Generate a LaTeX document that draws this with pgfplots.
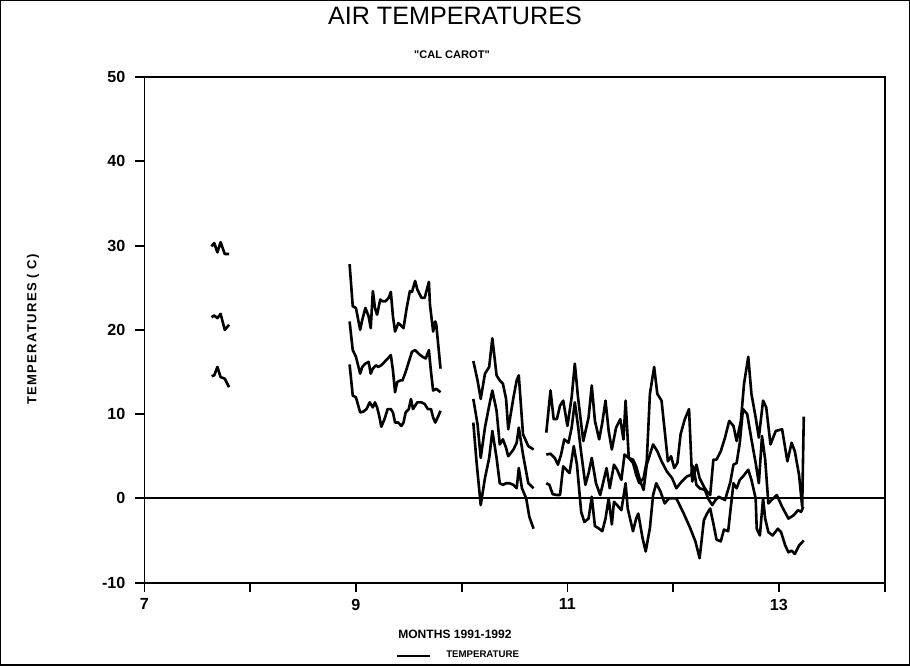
\documentclass[border=0pt]{standalone}
\usepackage{fontspec}
\setmainfont{Liberation Sans}
\usepackage{pgfplots}
\pgfplotsset{compat=1.18}

% daily max / mean / min air temperature, one table per line; nan breaks the gaps
\pgfplotstableread{
x y
7.635 29.9
7.66 30.3
7.69 29.2
7.72 30.4
7.76 29.0
7.80 29.0
nan nan
8.94 27.8
8.97 22.8
9.00 22.6
9.04 20.0
9.06 21.2
9.09 22.6
9.12 21.6
9.14 20.2
9.16 24.6
9.18 22.6
9.20 21.8
9.23 23.6
9.25 23.4
9.28 23.4
9.31 23.8
9.33 24.5
9.35 21.6
9.37 19.8
9.40 20.8
9.42 20.6
9.45 20.2
9.48 22.6
9.51 24.6
9.53 24.5
9.56 25.8
9.58 24.8
9.62 23.8
9.65 23.8
9.69 25.7
9.70 23.0
9.73 19.8
9.75 21.0
9.76 20.6
9.80 15.4
nan nan
10.11 16.3
10.15 14.0
10.18 11.8
10.22 14.8
10.26 15.6
10.29 19.0
10.33 14.6
10.36 14.0
10.39 13.6
10.42 11.8
10.44 8.2
10.49 12.0
10.52 14.0
10.54 14.6
10.58 7.6
10.63 6.2
10.68 5.8
nan nan
10.80 7.8
10.84 12.8
10.87 9.4
10.90 9.4
10.93 11.0
10.96 11.6
11.00 8.6
11.04 12.0
11.07 16.0
11.10 12.0
11.15 6.8
11.20 9.6
11.23 13.4
11.26 9.2
11.30 7.0
11.33 9.0
11.36 11.6
11.39 8.0
11.42 5.8
11.46 8.4
11.50 9.4
11.53 7.0
11.55 11.6
11.58 4.8
11.62 4.2
11.65 2.8
11.68 1.8
11.72 2.4
11.75 4.4
11.78 12.4
11.82 15.6
11.85 12.4
11.89 11.6
11.92 8.0
11.95 4.4
11.98 5.0
12.01 3.6
12.04 4.2
12.07 7.6
12.11 9.4
12.15 10.6
12.18 2.0
12.22 4.0
12.25 2.4
12.29 1.4
12.32 0.8
12.35 0.4
12.38 4.6
12.41 4.6
12.45 5.6
12.49 7.2
12.53 9.2
12.57 8.6
12.60 6.8
12.64 9.2
12.67 13.6
12.71 16.8
12.74 12.4
12.78 9.6
12.81 7.2
12.85 11.6
12.88 10.8
12.92 6.4
12.97 8.0
13.03 8.2
13.08 4.4
13.12 6.6
13.15 5.6
13.19 2.8
13.22 -1.0
13.235 9.7
}\tmax

\pgfplotstableread{
x y
7.635 21.5
7.66 21.7
7.69 21.4
7.72 21.9
7.76 20.0
7.80 20.6
nan nan
8.94 21.0
8.97 17.6
9.00 16.8
9.04 14.8
9.06 15.6
9.09 16.0
9.12 16.2
9.14 14.8
9.16 15.4
9.19 15.8
9.21 15.6
9.24 15.8
9.27 16.2
9.30 16.6
9.33 17.0
9.35 15.2
9.37 12.6
9.39 13.8
9.42 14.0
9.44 14.0
9.47 15.0
9.50 16.2
9.53 17.4
9.56 17.6
9.59 17.2
9.63 16.8
9.66 16.6
9.69 17.6
9.71 15.0
9.73 12.8
9.76 13.0
9.80 12.6
nan nan
10.11 11.8
10.15 8.8
10.18 4.8
10.22 8.4
10.26 11.0
10.29 12.8
10.33 10.4
10.36 6.4
10.39 7.0
10.42 6.0
10.44 5.0
10.49 5.8
10.52 6.6
10.54 8.4
10.58 5.2
10.63 1.8
10.68 1.2
nan nan
10.80 5.2
10.84 5.3
10.88 4.8
10.91 4.0
10.94 5.2
10.97 7.0
11.01 6.6
11.04 8.4
11.07 11.4
11.10 8.6
11.13 5.4
11.17 1.6
11.20 3.0
11.23 4.8
11.27 1.8
11.31 0.4
11.34 2.0
11.37 3.6
11.40 1.2
11.44 4.0
11.47 3.4
11.51 2.2
11.54 5.2
11.58 4.8
11.62 4.6
11.65 3.8
11.69 2.0
11.72 1.0
11.75 4.0
11.81 6.4
11.85 5.6
11.89 4.4
11.94 3.2
11.99 2.4
12.03 1.2
12.08 2.0
12.13 2.6
12.17 2.8
12.19 3.8
12.22 1.6
12.25 1.2
12.30 1.0
12.33 0.0
12.37 -0.8
12.40 -0.2
12.43 0.2
12.46 0.0
12.49 -0.2
12.54 1.9
12.57 4.0
12.60 4.2
12.63 6.6
12.66 10.6
12.70 10.0
12.74 7.0
12.78 4.2
12.81 1.8
12.84 7.4
12.87 4.6
12.90 -0.6
12.93 -0.2
12.98 0.4
13.03 -1.0
13.09 -2.4
13.14 -2.0
13.18 -1.4
13.21 -1.6
13.23 -1.0
}\tmean

\pgfplotstableread{
x y
7.635 14.5
7.66 14.6
7.69 15.6
7.72 14.4
7.76 14.2
7.80 13.2
nan nan
8.94 15.9
8.97 12.2
9.00 12.0
9.04 10.2
9.07 10.3
9.10 10.6
9.13 11.4
9.16 10.8
9.18 11.4
9.20 10.8
9.22 9.8
9.24 8.5
9.27 9.4
9.30 10.6
9.33 10.6
9.35 10.2
9.37 9.0
9.40 9.0
9.43 8.6
9.45 9.0
9.47 10.2
9.50 10.6
9.52 11.8
9.54 10.6
9.58 11.4
9.62 11.4
9.65 11.2
9.68 10.6
9.71 10.6
9.73 9.6
9.75 9.0
9.78 9.8
9.80 10.4
nan nan
10.11 9.0
10.14 4.4
10.18 -0.8
10.22 2.4
10.26 4.8
10.29 8.0
10.33 4.8
10.36 1.8
10.39 1.6
10.42 1.8
10.45 1.8
10.49 1.6
10.52 1.2
10.54 3.6
10.57 1.2
10.61 0.0
10.64 -2.2
10.68 -3.6
nan nan
10.80 1.8
10.83 1.6
10.86 0.5
10.90 0.4
10.93 0.4
10.96 3.8
10.99 3.4
11.02 3.0
11.06 6.2
11.09 4.0
11.13 -1.6
11.16 -2.8
11.20 -2.4
11.23 0.2
11.26 -3.3
11.29 -3.5
11.33 -3.9
11.36 -2.4
11.39 0.0
11.42 -3.1
11.44 -0.4
11.47 -0.8
11.51 -1.4
11.55 1.8
11.57 -1.2
11.62 -3.9
11.65 -2.4
11.67 -1.8
11.71 -4.7
11.74 -6.3
11.78 -3.5
11.81 0.4
11.84 1.8
11.88 0.8
11.92 -0.6
11.96 0.0
12.03 0.0
12.10 -1.8
12.16 -3.5
12.21 -5.1
12.25 -7.1
12.29 -2.6
12.32 -1.8
12.35 -1.2
12.38 -3.0
12.41 -4.9
12.45 -5.1
12.48 -3.7
12.52 -3.9
12.54 -1.6
12.57 1.8
12.60 1.2
12.63 2.2
12.66 2.6
12.71 3.4
12.74 2.2
12.78 0.0
12.79 -3.6
12.82 -4.4
12.85 0.0
12.87 -2.4
12.90 -4.0
12.94 -4.4
12.99 -3.6
13.02 -4.0
13.06 -5.6
13.09 -6.4
13.12 -6.2
13.15 -6.6
13.19 -5.6
13.22 -5.2
13.235 -5.0
}\tmin

\begin{document}
\begin{tikzpicture}
\begin{axis}[
  scale only axis,
  width=368.25pt, height=251.5pt,
  xmin=7, xmax=14, ymin=-10, ymax=50,
  xtick={7,8,...,14},
  xticklabels={7,,9,,11,,13,},
  ytick={-10,0,...,50},
  tick align=outside,
  xtick pos=bottom, ytick pos=left,
  major tick length=4.5pt,
  axis line style={line width=0.9pt},
  tick style={line width=0.9pt, black},
  tick label style={font=\bfseries\fontsize{8}{9}\selectfont},
  /pgf/number format/assume math mode=true,
  yticklabel style={xshift=-1.5pt},
  clip=false,
  unbounded coords=jump,
  legend style={at={(0.4257,-0.1451)}, anchor=center, draw=none, fill=none,
    font=\bfseries\fontsize{4.8}{6}\selectfont},
  legend image code/.code={\draw[line width=0.6pt] (0pt,0pt) -- (16.5pt,0pt); \path (22pt,0pt);},
]
\addplot[black, line width=1.3pt, line join=round] table {\tmax};
\addlegendentry{TEMPERATURE}
\addplot[black, line width=1.3pt, line join=round, forget plot] table {\tmean};
\addplot[black, line width=1.3pt, line join=round, forget plot] table {\tmin};
\addplot[black, line width=0.9pt, forget plot] coordinates {(7,0) (14,0)};

\coordinate (sw) at (rel axis cs:0,0);
\coordinate (ne) at (rel axis cs:1,1);
\node[font=\fontsize{12.5}{14}\selectfont] at (rel axis cs:0.4195,1.1213) {AIR TEMPERATURES};
\node[font=\bfseries\fontsize{5.5}{6.5}\selectfont\addfontfeature{Ligatures=TeXOff}] at (rel axis cs:0.4155,1.0437) {"CAL CAROT"};
\node[font=\bfseries\fontsize{6.5}{7.5}\selectfont\addfontfeature{LetterSpace=10}, rotate=90] at (rel axis cs:-0.1507,0.501) {TEMPERATURES ( C)};
\node[font=\bfseries\fontsize{6}{7}\selectfont] at (rel axis cs:0.4195,-0.1014) {MONTHS 1991-1992};
\end{axis}
\draw[line width=0.7pt] ([shift={(-71.5pt,-41pt)}]sw) rectangle ([shift={(12.25pt,38pt)}]ne);
\end{tikzpicture}
\end{document}
